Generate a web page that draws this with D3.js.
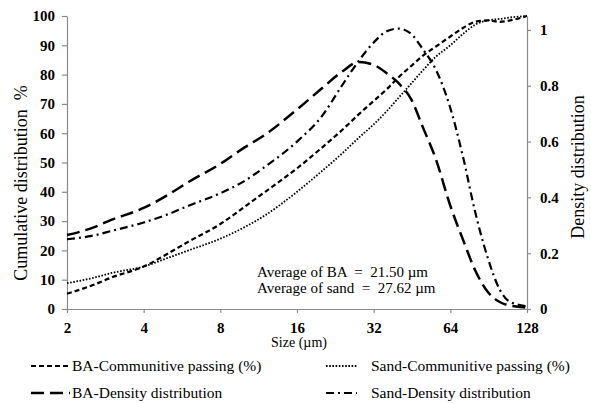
<!DOCTYPE html>
<html>
<head>
<meta charset="utf-8">
<script src="https://cdn.jsdelivr.net/npm/d3@7"></script>
<style>
    body { margin: 0; background: #fff; }
    text { font-family: "Liberation Serif", "Times New Roman", serif; }
</style>
</head>
<body>
<div id="chart"></div>
<script>
// Particle sizes (um) on a log2 axis
var sizes = [2, 2.5, 3, 4, 5, 6, 8, 10, 12, 16, 20, 24, 28, 32, 36, 40, 45, 50, 56, 64, 72, 80, 90, 100, 110, 128];

// Cumulative passing (%)
var baCumulative = [5.2, 8, 10.8, 14.5, 19, 23, 29, 35, 40, 48, 55, 61, 66.5, 71, 75, 79, 83, 86.5, 89.5, 93, 96, 98, 98.5, 98, 98.5, 100];
var sandCumulative = [8.8, 10.5, 12.3, 14.5, 17.5, 20, 24, 28, 32, 40, 47, 53, 58.5, 63, 67.5, 72, 77, 81.5, 86, 90, 94, 97, 98.5, 99, 99.5, 100];

// Density distribution
var baDensity = [0.265, 0.29, 0.32, 0.362, 0.41, 0.455, 0.52, 0.58, 0.625, 0.715, 0.79, 0.85, 0.885, 0.875, 0.845, 0.81, 0.75, 0.65, 0.54, 0.37, 0.245, 0.14, 0.06, 0.025, 0.012, 0.005];
var sandDensity = [0.25, 0.262, 0.28, 0.31, 0.34, 0.37, 0.415, 0.46, 0.51, 0.6, 0.69, 0.8, 0.89, 0.955, 0.995, 1.005, 0.985, 0.93, 0.86, 0.72, 0.54, 0.35, 0.18, 0.07, 0.025, 0.01];

// Tick labels
var xTicks = [2, 4, 8, 16, 32, 64, 128];
var leftTicks = [0, 10, 20, 30, 40, 50, 60, 70, 80, 90, 100];
var rightTicks = [0, 0.2, 0.4, 0.6, 0.8, 1];

// Chart size
var width = 591;
var height = 403;

var svg = d3.select("#chart")
    .append("svg")
    .attr("width", width)
    .attr("height", height);

// Scales
var x = d3.scaleLog().base(2).domain([2, 128]).range([67, 527]);
var yLeft = d3.scaleLinear().domain([0, 100]).range([309, 16]);
var yRight = d3.scaleLinear().domain([0, 1.05]).range([309, 16]);

// Axes
function styleAxis(g) {
    g.selectAll("path, line").attr("stroke", "#8a8a8a").attr("stroke-width", 1.2);
    g.selectAll("text")
        .attr("fill", "#000")
        .attr("font-weight", "bold")
        .attr("font-size", "15px");
}

svg.append("g")
    .attr("transform", "translate(0,309)")
    .call(d3.axisBottom(x).tickValues(xTicks).tickFormat(d3.format("d")).tickSize(4).tickSizeOuter(0).tickPadding(9))
    .call(styleAxis);

svg.append("g")
    .attr("transform", "translate(67,0)")
    .call(d3.axisLeft(yLeft).tickValues(leftTicks).tickSize(5).tickSizeOuter(0).tickPadding(7))
    .call(styleAxis);

svg.append("g")
    .attr("transform", "translate(527,0)")
    .call(d3.axisRight(yRight).tickValues(rightTicks).tickFormat(d => d === 0 || d === 1 ? d : d.toFixed(1)).tickSize(4).tickSizeOuter(0).tickPadding(9))
    .call(styleAxis);

// Series definitions
var series = [
    { name: "BA-Communitive passing (%)", values: baCumulative, y: yLeft, dash: "5,3", w: 2.2 },
    { name: "Sand-Communitive passing (%)", values: sandCumulative, y: yLeft, dash: "1.6,1.6", w: 1.8 },
    { name: "BA-Density distribution", values: baDensity, y: yRight, dash: "13,6", w: 2.5 },
    { name: "Sand-Density distribution", values: sandDensity, y: yRight, dash: "8,4,2,4", w: 2.2 }
];

series.forEach(function (s) {
    var line = d3.line()
        .x((d, i) => x(sizes[i]))
        .y(d => s.y(d))
        .curve(d3.curveMonotoneX);
    svg.append("path")
        .datum(s.values)
        .attr("fill", "none")
        .attr("stroke", "#000")
        .attr("stroke-width", s.w)
        .attr("stroke-dasharray", s.dash)
        .attr("d", line);
});

// Axis titles
svg.append("text")
    .attr("transform", "translate(27,183) rotate(-90)")
    .attr("text-anchor", "middle")
    .attr("font-size", "18px")
    .style("white-space", "pre")
    .text("Cumulative distribution  %");

svg.append("text")
    .attr("transform", "translate(584,167) rotate(-90)")
    .attr("text-anchor", "middle")
    .attr("font-size", "18px")
    .text("Density distribution");

svg.append("text")
    .attr("x", 299)
    .attr("y", 347)
    .attr("text-anchor", "middle")
    .attr("font-size", "14px")
    .text("Size (\u00b5m)");

// Average annotation
svg.append("text")
    .attr("x", 257)
    .attr("y", 277)
    .attr("font-size", "15px")
    .style("white-space", "pre")
    .text("Average of BA  =  21.50 \u00b5m");

svg.append("text")
    .attr("x", 257)
    .attr("y", 293)
    .attr("font-size", "15px")
    .style("white-space", "pre")
    .text("Average of sand  =  27.62 \u00b5m");

// Legend
var legendPos = [
    { x1: 31, x2: 70, tx: 72, y: 366 },
    { x1: 326, x2: 357, tx: 371, y: 366 },
    { x1: 31, x2: 70, tx: 72, y: 393 },
    { x1: 326, x2: 357, tx: 371, y: 393 }
];

series.forEach(function (s, i) {
    var p = legendPos[i];
    svg.append("line")
        .attr("x1", p.x1).attr("x2", p.x2)
        .attr("y1", p.y).attr("y2", p.y)
        .attr("stroke", "#000")
        .attr("stroke-width", s.w)
        .attr("stroke-dasharray", s.dash);
    svg.append("text")
        .attr("x", p.tx)
        .attr("y", p.y + 5)
        .attr("font-size", "15.5px")
        .text(s.name);
});
</script>
</body>
</html>
